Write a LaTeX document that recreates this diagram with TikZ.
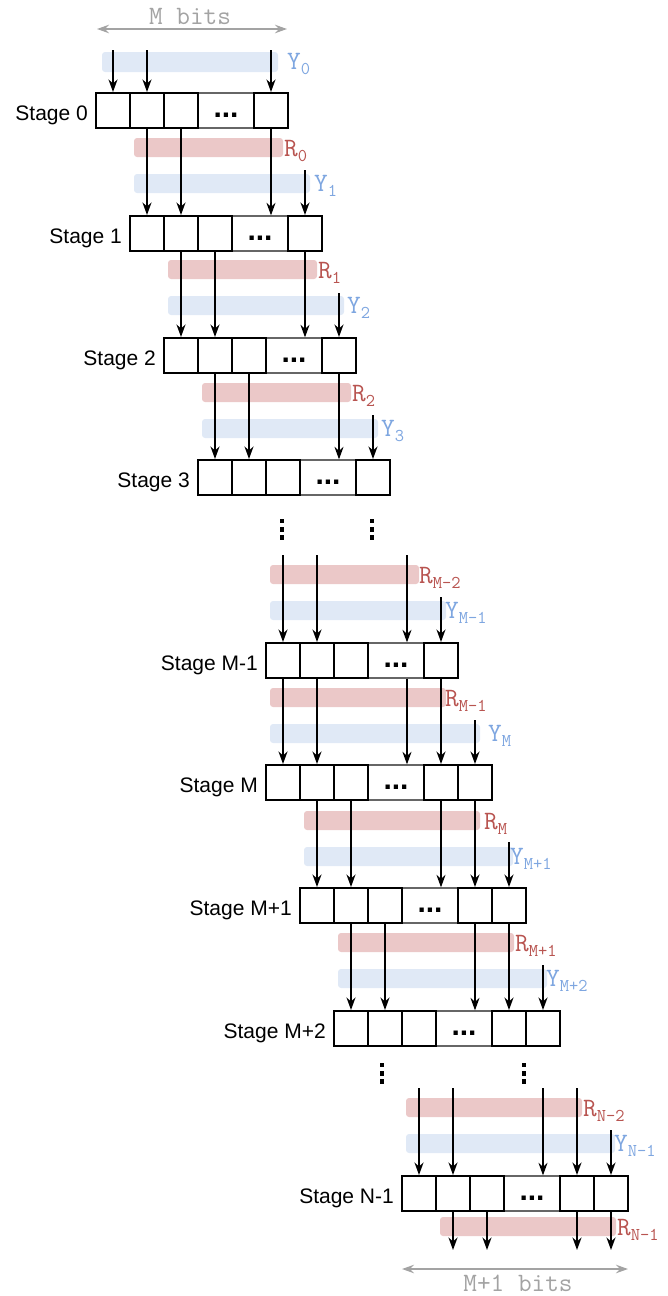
\documentclass[tikz,border=0pt]{standalone}
\usepackage{fontspec}
\setmainfont{Liberation Sans}
\usetikzlibrary{arrows.meta}
\definecolor{yfill}{HTML}{E0E9F6}
\definecolor{rfill}{HTML}{EBC8C8}
\definecolor{ytext}{HTML}{7EA6E0}
\definecolor{rtext}{HTML}{B85450}
\definecolor{gtext}{HTML}{A3A3A3}
\newcommand{\mainsz}{\fontsize{26.5}{26.5}\selectfont}
\newcommand{\subsz}{\fontsize{18}{18}\selectfont}
\newcommand{\lab}[2]{{\ttfamily\mainsz #1\raisebox{-5pt}{\subsz #2}}}
\tikzset{
  cell/.style={draw=black, line width=2pt, minimum width=34pt, minimum height=35pt, inner sep=0pt},
  widecell/.style={draw=black!60, line width=1.3pt, minimum width=56pt, minimum height=35pt, inner sep=0pt},
  ell/.style={font=\fontsize{30}{30}\selectfont\bfseries, inner sep=0pt, anchor=base},
  stagelbl/.style={font=\fontsize{21}{21}\selectfont, inner sep=0pt, anchor=base east},
  arr/.style={draw=black, line width=1.5pt, -{Stealth[length=12.5pt,width=9pt,inset=4pt]}},
  rband/.style={fill=rfill, rounded corners=3pt},
  yband/.style={fill=yfill, rounded corners=3pt},
  rlbl/.style={text=rtext, inner sep=0pt, anchor=base west},
  ylbl/.style={text=ytext, inner sep=0pt, anchor=base west},
  dimarrow/.style={draw=gtext, line width=1.6pt, {Stealth[length=12pt,width=8.5pt,inset=4pt]}-{Stealth[length=12pt,width=8.5pt,inset=4pt]}},
  dimlbl/.style={text=gtext, inner sep=0pt, anchor=base, font=\ttfamily\mainsz},
}
% #1 name, #2 label, #3 x, #4 top, #5 number of cells
\newcommand{\stg}[5]{%
  \node[widecell] (#1w) at ({#3+130},{#4+17.5}) {};
  \node[cell] (#1a) at ({#3+17},{#4+17.5}) {};
  \node[cell] (#1b) at ({#3+51},{#4+17.5}) {};
  \node[cell] (#1c) at ({#3+85},{#4+17.5}) {};
  \node[cell] (#1e) at ({#3+175},{#4+17.5}) {};
  \ifnum#5=6 \node[cell] (#1f) at ({#3+209},{#4+17.5}) {};\fi
  \node[ell] (#1d) at ({#3+130},{#4+24.5}) {...};
  \node[stagelbl] (#1l) at ({#3-8},{#4+27.5}) {#2};
}
\newcommand{\dotcol}[2]{%
  \fill ({#1-2.15},{#2}) rectangle ++(4.3,4.3);
  \fill ({#1-2.15},{#2+8.2}) rectangle ++(4.3,4.3);
  \fill ({#1-2.15},{#2+16.4}) rectangle ++(4.3,4.3);
}
\begin{document}
\begin{tikzpicture}[x=1pt,y=-1pt]
\useasboundingbox (0,0) rectangle (668,1296);

% bands
\path[yband] (102,52) rectangle (278,72);
\path[rband] (134,138) rectangle (283,157);
\path[yband] (134,174) rectangle (310,193);
\path[rband] (168,260) rectangle (317,279);
\path[yband] (168,296) rectangle (344,315);
\path[rband] (202,383) rectangle (351,402);
\path[yband] (202,419) rectangle (378,438);
\path[rband] (270,565) rectangle (419,584);
\path[yband] (270,601) rectangle (446,620);
\path[rband] (270,688) rectangle (446,707);
\path[yband] (270,724) rectangle (480,743);
\path[rband] (304,811) rectangle (480,830);
\path[yband] (304,847) rectangle (513,866);
\path[rband] (338,933) rectangle (514,952);
\path[yband] (338,969) rectangle (547,988);
\path[rband] (406,1098) rectangle (582,1117);
\path[yband] (406,1134) rectangle (615,1153);
\path[rband] (440,1217) rectangle (616,1236);

% labels
\node[ylbl] (lY0) at (287,69) {\lab{Y}{0}};
\node[rlbl] (lR0) at (284,156) {\lab{R}{0}};
\node[ylbl] (lY1) at (314,191) {\lab{Y}{1}};
\node[rlbl] (lR1) at (318,278) {\lab{R}{1}};
\node[ylbl] (lY2) at (347,313) {\lab{Y}{2}};
\node[rlbl] (lR2) at (352,401) {\lab{R}{2}};
\node[ylbl] (lY3) at (381,436) {\lab{Y}{3}};
\node[rlbl] (lRM2) at (419,583) {\lab{R}{M-2}};
\node[ylbl] (lYM1) at (445,618) {\lab{Y}{M-1}};
\node[rlbl] (lRM1) at (445,706) {\lab{R}{M-1}};
\node[ylbl] (lYM) at (488,741) {\lab{Y}{M}};
\node[rlbl] (lRM) at (484,829) {\lab{R}{M}};
\node[ylbl] (lYMp1) at (510,864) {\lab{Y}{M+1}};
\node[rlbl] (lRMp1) at (515,951) {\lab{R}{M+1}};
\node[ylbl] (lYMp2) at (546,986) {\lab{Y}{M+2}};
\node[rlbl] (lRN2) at (583,1116) {\lab{R}{N-2}};
\node[ylbl] (lYN1) at (614,1151) {\lab{Y}{N-1}};
\node[rlbl] (lRN1) at (617,1235) {\lab{R}{N-1}};

% stages
\stg{s0}{Stage 0}{96}{93}{5}
\stg{s1}{Stage 1}{130}{216}{5}
\stg{s2}{Stage 2}{164}{338}{5}
\stg{s3}{Stage 3}{198}{460}{5}
\stg{sA}{Stage M-1}{266}{643}{5}
\stg{sB}{Stage M}{266}{765}{6}
\stg{sC}{Stage M+1}{300}{888}{6}
\stg{sD}{Stage M+2}{334}{1011}{6}
\stg{sE}{Stage N-1}{402}{1176}{6}

% vertical dots
\dotcol{282}{519}
\dotcol{372}{519}
\dotcol{382}{1063}
\dotcol{524}{1063}

% free ends
\coordinate (i0a) at (113,50);
\coordinate (i0b) at (147,50);
\coordinate (i0e) at (271,50);
\coordinate (y1) at (305,170);
\coordinate (y2) at (339,293);
\coordinate (y3) at (373,415);
\coordinate (iAa) at (283,555);
\coordinate (iAb) at (317,555);
\coordinate (iAw) at (407,555);
\coordinate (iAe) at (441,555);
\coordinate (yA) at (441,597);
\coordinate (yB) at (475,720);
\coordinate (yC) at (509,842);
\coordinate (yD) at (543,965);
\coordinate (iEa) at (419,1088);
\coordinate (iEb) at (453,1088);
\coordinate (iEw) at (543,1088);
\coordinate (iEe) at (577,1088);
\coordinate (yE) at (611,1130);
\coordinate (oEb) at (453,1250);
\coordinate (oEc) at (487,1250);
\coordinate (oEe) at (577,1250);
\coordinate (oEf) at (611,1250);

% arrows into stage 0
\draw[arr] (i0a) -- (s0a);
\draw[arr] (i0b) -- (s0b);
\draw[arr] (i0e) -- (s0e);
% stage 0 -> 1
\draw[arr] (s0b) -- (s1a);
\draw[arr] (s0c) -- (s1b);
\draw[arr] (s0e) -- (s0e.south |- s1w.north);
\draw[arr] (y1) -- (s1e);
% stage 1 -> 2
\draw[arr] (s1b) -- (s2a);
\draw[arr] (s1c) -- (s2b);
\draw[arr] (s1e) -- (s1e.south |- s2w.north);
\draw[arr] (y2) -- (s2e);
% stage 2 -> 3
\draw[arr] (s2b) -- (s3a);
\draw[arr] (s2c) -- (s3b);
\draw[arr] (s2e) -- (s2e.south |- s3w.north);
\draw[arr] (y3) -- (s3e);
% into stage M-1
\draw[arr] (iAa) -- (sAa);
\draw[arr] (iAb) -- (sAb);
\draw[arr] (iAw) -- (iAw |- sAw.north);
\draw[arr] (yA) -- (sAe);
% stage M-1 -> M
\draw[arr] (sAa) -- (sBa);
\draw[arr] (sAb) -- (sBb);
\draw[arr] (iAw |- sAw.south) -- (iAw |- sBw.north);
\draw[arr] (sAe) -- (sBe);
\draw[arr] (yB) -- (sBf);
% stage M -> M+1
\draw[arr] (sBb) -- (sCa);
\draw[arr] (sBc) -- (sCb);
\draw[arr] (sBe) -- (sBe.south |- sCw.north);
\draw[arr] (sBf) -- (sCe);
\draw[arr] (yC) -- (sCf);
% stage M+1 -> M+2
\draw[arr] (sCb) -- (sDa);
\draw[arr] (sCc) -- (sDb);
\draw[arr] (sCe) -- (sCe.south |- sDw.north);
\draw[arr] (sCf) -- (sDe);
\draw[arr] (yD) -- (sDf);
% into stage N-1
\draw[arr] (iEa) -- (sEa);
\draw[arr] (iEb) -- (sEb);
\draw[arr] (iEw) -- (iEw |- sEw.north);
\draw[arr] (iEe) -- (sEe);
\draw[arr] (yE) -- (sEf);
% out of stage N-1
\draw[arr] (sEb) -- (oEb);
\draw[arr] (sEc) -- (oEc);
\draw[arr] (sEe) -- (oEe);
\draw[arr] (sEf) -- (oEf);

% dimension arrows
\coordinate (dTl) at (97,29);
\coordinate (dTr) at (287,29);
\coordinate (dBl) at (402,1269);
\coordinate (dBr) at (628,1269);
\draw[dimarrow] (dTl) -- (dTr);
\draw[dimarrow] (dBl) -- (dBr);
\node[dimlbl] (dT) at (190,24) {M bits};
\node[dimlbl] (dB) at (518,1291) {M+1 bits};
\end{tikzpicture}
\end{document}
